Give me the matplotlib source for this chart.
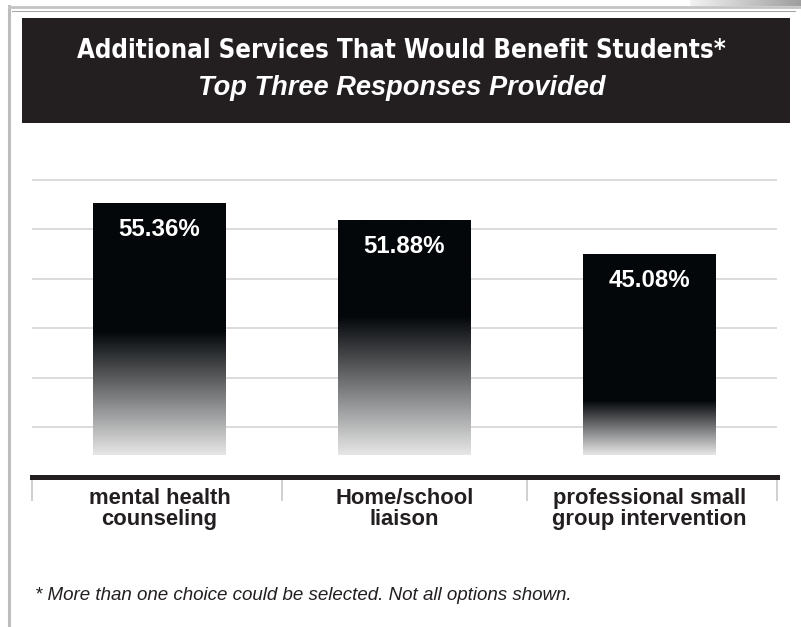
import numpy as np
import matplotlib.pyplot as plt
from matplotlib.colors import LinearSegmentedColormap
from matplotlib.lines import Line2D
from matplotlib.patches import Rectangle

# ------------------------------------------------------------------
# Daten
categories = ["mental health\ncounseling", "Home/school\nliaison",
              "professional small\ngroup intervention"]
percent = [55.36, 51.88, 45.08]
fade_start = [29.5, 32.5, 15.5]   # ab hier wird der Balken nach unten heller
bar_gap = 4.5                     # Balken beginnen etwas oberhalb der Grundlinie

title = "Additional Services That Would Benefit Students*"
subtitle = "Top Three Responses Provided"
footnote = "* More than one choice could be selected. Not all options shown."

# ------------------------------------------------------------------
W, H = 801, 627
fig = plt.figure(figsize=(W / 100, H / 100), dpi=100)
fig.patch.set_facecolor("white")


def fx(px):
    return px / W


def fy(py):
    return 1 - py / H


# Rahmen
fig.add_artist(Line2D([fx(9), fx(9)], [fy(6), fy(627)], color="#bdbdbd", lw=2.2))
fig.add_artist(Line2D([fx(9), fx(801)], [fy(6.5), fy(6.5)], color="#c4c4c4", lw=2.0))
fig.add_artist(Line2D([fx(12), fx(795)], [fy(10.5), fy(10.5)], color="#a8a8a8", lw=0.8))
grad_ax = fig.add_axes([fx(690), fy(6), fx(111), 6 / H])
grad_ax.imshow(np.linspace(0.95, 0.62, 64)[None, :], cmap="gray", vmin=0, vmax=1,
               aspect="auto")
grad_ax.axis("off")

# Titelbalken
fig.add_artist(Rectangle((fx(22), fy(123)), fx(768), 105 / H, color="#231f20", lw=0))
fig.text(fx(401), fy(51), title, color="white", fontsize=18.5, fontweight="bold",
         family="DejaVu Sans", fontstretch="condensed", ha="center", va="center")
fig.text(fx(402), fy(88), subtitle, color="white", fontsize=19.6, fontweight="bold",
         style="italic", family="Liberation Sans", ha="center", va="center")

# ------------------------------------------------------------------
# Diagramm
ax = fig.add_axes([fx(32), fy(477), fx(745), (477 - 170) / H])
ax.set_xlim(-0.52, 2.52)
ax.set_ylim(0, 62)
ax.set_facecolor("none")
for s in ax.spines.values():
    s.set_visible(False)

ax.set_yticks([10, 20, 30, 40, 50, 60])
ax.yaxis.grid(True, color="#d9d9d9", lw=1.3)
ax.set_axisbelow(True)
ax.tick_params(axis="y", left=False, labelleft=False)

x = np.arange(len(categories))
width = 0.54
bars = ax.bar(x, np.array(percent) - bar_gap, width, bottom=bar_gap,
              color="none", lw=0, zorder=2)

cmap = LinearSegmentedColormap.from_list("fade", ["#04070a", "#e6e6e6"])
for b, val, top_black in zip(bars, percent, fade_start):
    yy = np.linspace(val, bar_gap, 400)
    t = np.clip((top_black - yy) / (top_black - bar_gap), 0, 1)
    img = ax.imshow(t[:, None], cmap=cmap, vmin=0, vmax=1, aspect="auto",
                    extent=[b.get_x(), b.get_x() + b.get_width(), bar_gap, val],
                    zorder=2, interpolation="bilinear")
    img.set_clip_path(b)
    ax.text(b.get_x() + b.get_width() / 2, val - 5.3, f"{val:.2f}%", color="white",
            fontsize=17.3, fontweight="bold", family="Liberation Sans",
            ha="center", va="center", zorder=3)

ax.axhline(0, color="#231f20", lw=3.6, zorder=4, clip_on=False)

ax.set_xticks(x)
ax.set_xticklabels(categories, fontsize=15.8, fontweight="bold",
                   family="Liberation Sans", color="#231f20", linespacing=1.0)
ax.set_xticks([-0.52, 0.5, 1.5, 2.52], minor=True)
ax.tick_params(axis="x", which="major", length=0, pad=8)
ax.tick_params(axis="x", which="minor", length=17, width=1.2, color="#c8c8c8")

fig.text(fx(35), fy(595), footnote, fontsize=13.5, style="italic",
         family="Liberation Sans", color="#231f20", ha="left", va="center")

fig.savefig("out.png", dpi=100)
